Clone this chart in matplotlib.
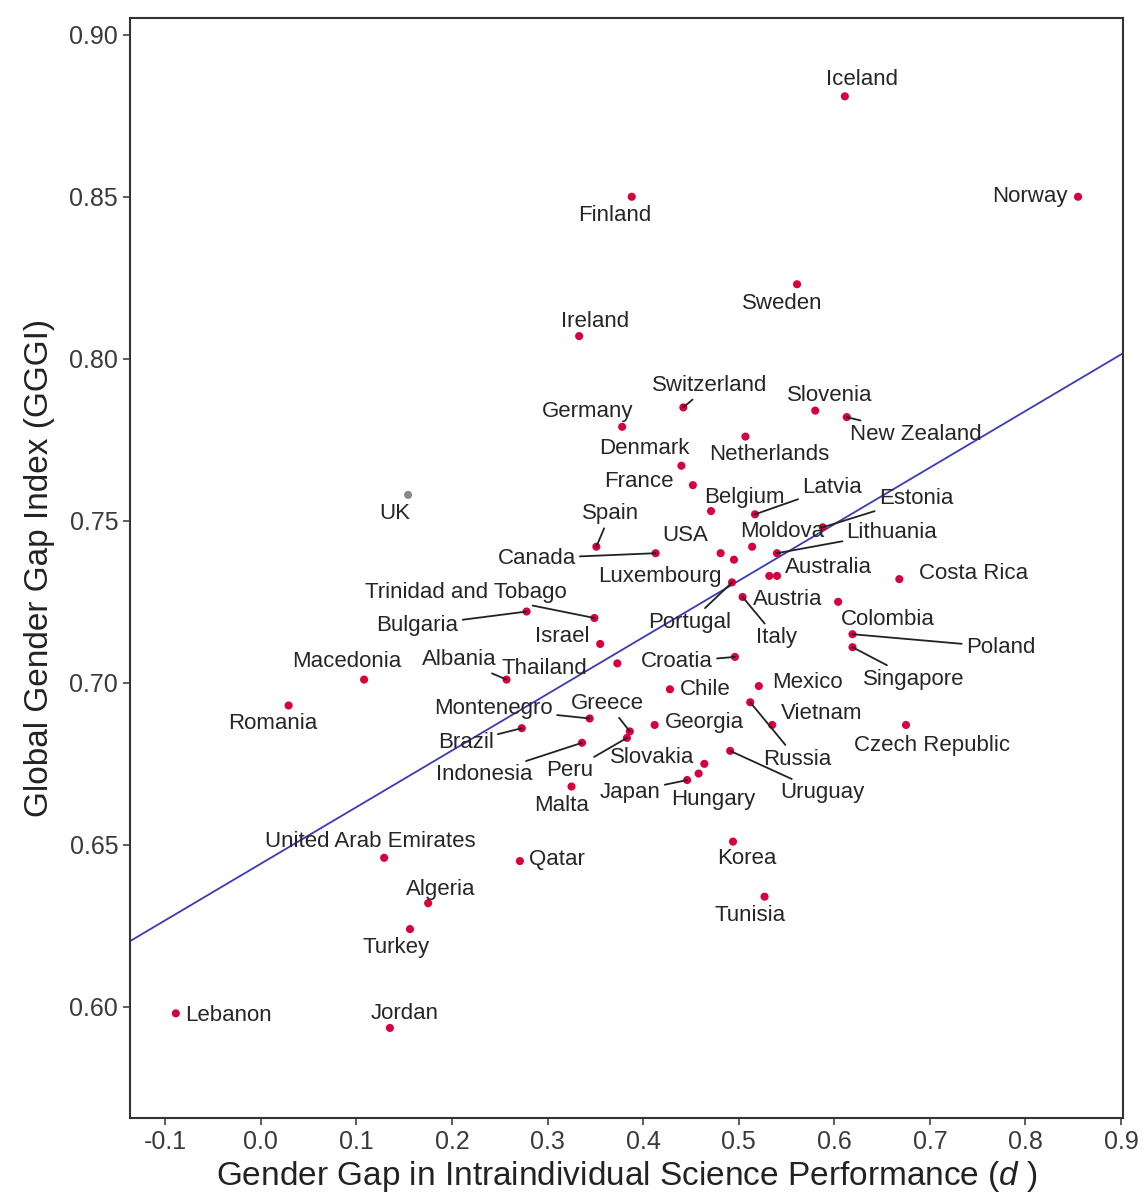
import numpy as np
import matplotlib
matplotlib.use("Agg")
import matplotlib.pyplot as plt

plt.rcParams['font.family'] = ['Liberation Sans', 'DejaVu Sans']
plt.rcParams['mathtext.fontset'] = 'custom'
plt.rcParams['mathtext.it'] = 'Liberation Sans:italic'

# data
countries = [
    "Iceland", "Norway", "Finland", "Sweden", "Ireland", "Switzerland", "Slovenia",
    "New Zealand", "Germany", "Netherlands", "Denmark", "France", "Belgium", "Latvia",
    "Estonia", "UK", "Spain", "USA", "Moldova", "Lithuania", "Canada", "Luxembourg",
    "Australia", "Costa Rica", "Trinidad and Tobago", "Austria", "Bulgaria", "Portugal",
    "Colombia", "Israel", "Italy", "Poland", "Macedonia", "Albania", "Thailand",
    "Croatia", "Singapore", "Chile", "Mexico", "Romania", "Montenegro", "Greece",
    "Vietnam", "Georgia", "Brazil", "Czech Republic", "Slovakia", "Russia",
    "Indonesia", "Peru", "Uruguay", "Japan", "Hungary", "Malta",
    "United Arab Emirates", "Qatar", "Korea", "Algeria", "Tunisia", "Turkey",
    "Lebanon", "Jordan",
]
d_gap = [
    0.611, 0.855, 0.388, 0.561, 0.333, 0.442, 0.580,
    0.613, 0.378, 0.507, 0.440, 0.452, 0.471, 0.517,
    0.588, 0.154, 0.351, 0.481, 0.514, 0.540, 0.413, 0.495,
    0.540, 0.668, 0.349, 0.532, 0.278, 0.493,
    0.604, 0.355, 0.504, 0.619, 0.108, 0.257, 0.373,
    0.496, 0.619, 0.428, 0.521, 0.029, 0.344, 0.386,
    0.535, 0.412, 0.273, 0.675, 0.464, 0.512,
    0.336, 0.383, 0.491, 0.446, 0.458, 0.325,
    0.129, 0.271, 0.494, 0.175, 0.527, 0.156,
    -0.089, 0.135,
]
gggi = [
    0.881, 0.850, 0.850, 0.823, 0.807, 0.785, 0.784,
    0.782, 0.779, 0.776, 0.767, 0.761, 0.753, 0.752,
    0.748, 0.758, 0.742, 0.740, 0.742, 0.740, 0.740, 0.738,
    0.733, 0.732, 0.720, 0.733, 0.722, 0.731,
    0.725, 0.712, 0.7265, 0.715, 0.701, 0.701, 0.706,
    0.708, 0.711, 0.698, 0.699, 0.693, 0.689, 0.685,
    0.687, 0.687, 0.686, 0.687, 0.675, 0.694,
    0.6815, 0.683, 0.679, 0.670, 0.672, 0.668,
    0.646, 0.645, 0.651, 0.632, 0.634, 0.624,
    0.598, 0.5935,
]

# label placement: offset of label centre from point in pixels (dx, dy up), leader line flag
label_pos = {
    "Iceland": (17, 17, False), "Norway": (-48, 0, False), "Finland": (-17, -19, False),
    "Sweden": (-15, -19, False), "Ireland": (16, 15, False), "Switzerland": (26, 22, True),
    "Slovenia": (15, 15, False), "New Zealand": (69, -17, True), "Germany": (-35, 15, False),
    "Netherlands": (24, -18, False), "Denmark": (-37, 17, False), "France": (-54, 4, False),
    "Belgium": (33, 14, False), "Latvia": (77, 27, True), "Estonia": (93, 29, True),
    "UK": (-13, -19, False), "Spain": (14, 33, True), "USA": (-35, 18, False),
    "Moldova": (30, 15, False), "Lithuania": (115, 21, True), "Canada": (-119, -5, True),
    "Luxembourg": (-74, -17, False), "Australia": (51, 8, False), "Costa Rica": (74, 6, False),
    "Trinidad and Tobago": (-129, 26, True), "Austria": (18, -24, False),
    "Bulgaria": (-109, -14, True), "Portugal": (-42, -40, True), "Colombia": (50, -18, False),
    "Israel": (-38, 7, False), "Italy": (34, -41, True), "Poland": (148, -13, True),
    "Macedonia": (-17, 18, False), "Albania": (-47, 20, True), "Thailand": (-73, -5, False),
    "Croatia": (-58, -5, True), "Singapore": (61, -32, True), "Chile": (35, 0, False),
    "Mexico": (49, 4, False), "Romania": (-16, -18, False), "Montenegro": (-96, 10, True),
    "Greece": (-22, 28, True), "Vietnam": (49, 11, False), "Georgia": (50, 2, False),
    "Brazil": (-56, -14, True), "Czech Republic": (26, -21, False), "Slovakia": (-52, 6, False),
    "Russia": (47, -57, True), "Indonesia": (-98, -32, True), "Peru": (-57, -33, True),
    "Uruguay": (92, -42, True), "Japan": (-57, -12, True), "Hungary": (15, -26, False),
    "Malta": (-10, -19, False), "United Arab Emirates": (-14, 16, False),
    "Qatar": (37, 2, False), "Korea": (14, -17, False), "Algeria": (13, 14, False),
    "Tunisia": (-14, -19, False), "Turkey": (-14, -18, False), "Lebanon": (53, -2, False),
    "Jordan": (15, 14, False),
}

x = np.array(d_gap)
y = np.array(gggi)

fig = plt.figure(figsize=(11.44, 12.01), dpi=100)
ax = fig.add_axes([0.1136, 0.0691, 0.868, 0.916])

# regression line
slope, intercept = np.polyfit(x, y, 1)
ax.axline((0, intercept), slope=slope, color='#3b3bb5', lw=1.3, zorder=1)

colors = ['#8a8a8a' if c == "UK" else '#d6003c' for c in countries]
ax.scatter(x, y, s=34, c=colors, zorder=3, linewidths=0)

for c, xi, yi in zip(countries, x, y):
    dx, dy, line = label_pos[c]
    arrow = dict(arrowstyle='-', color='#222222', lw=1.3, shrinkA=1, shrinkB=0) if line else None
    ax.annotate(c, (xi, yi), xytext=(dx, dy), textcoords='offset pixels',
                ha='center', va='center', fontsize=16, color='#262626',
                arrowprops=arrow, zorder=4)

ax.set_xlim(-0.137, 0.902)
ax.set_ylim(0.5657, 0.9052)
ax.set_xticks(np.arange(-0.1, 0.91, 0.1))
ax.set_xticklabels([f"{v:.1f}" for v in np.arange(-0.1, 0.91, 0.1)])
ax.set_yticks([0.60, 0.65, 0.70, 0.75, 0.80, 0.85, 0.90])
ax.set_yticklabels(["0.60", "0.65", "0.70", "0.75", "0.80", "0.85", "0.90"])
ax.tick_params(labelsize=18, labelcolor='#3a3a3a', length=5, width=1.2, color='#444444')
for sp in ax.spines.values():
    sp.set_linewidth(1.5)
    sp.set_color('#333333')

ax.set_xlabel("Gender Gap in Intraindividual Science Performance ($\\mathit{d}$ )",
              fontsize=24, color='#222222', labelpad=4)
ax.set_ylabel("Global Gender Gap Index (GGGI)", fontsize=24, color='#222222', labelpad=10)

fig.savefig("out.png", dpi=100)
